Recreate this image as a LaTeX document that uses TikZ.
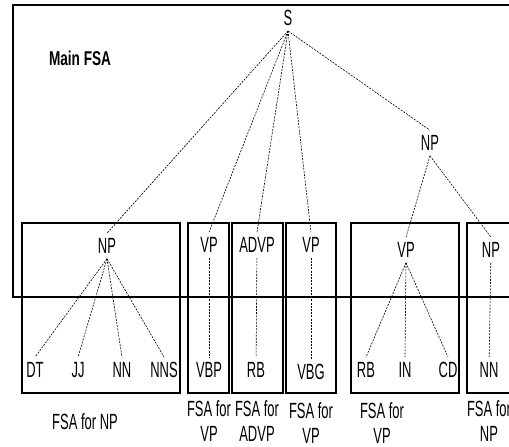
\documentclass[tikz,border=0pt]{standalone}
\usepackage{fontspec}
\setmainfont{Liberation Sans}[FakeStretch=0.59]
\newfontfamily\titlefont{Liberation Sans}[FakeStretch=0.68]
\tikzset{tag/.style={font=\fontsize{22}{27}\selectfont,inner sep=5pt},frame/.style={draw,line width=1.6pt},link/.style={line width=0.6pt,dash pattern=on 2pt off 1.2pt},fsalabel/.style={font=\fontsize{22}{25}\selectfont,align=center,inner sep=0pt}}

\begin{document}
\begin{tikzpicture}[x=1pt,y=-1pt]
\useasboundingbox (0,0) rectangle (509,447);
\clip (0,0) rectangle (509,447);
% main FSA and the sub-FSAs
\draw[frame] (13,5) rectangle (520,297);
\draw[frame] (22,223) rectangle (180,393); \draw[frame] (188,223) rectangle (229,393);
\draw[frame] (232,223) rectangle (283,393); \draw[frame] (286,223) rectangle (336,393);
\draw[frame] (351,223) rectangle (459,393); \draw[frame] (467,223) rectangle (520,393);
\node[tag,font=\titlefont\bfseries\fontsize{20}{24}\selectfont] (title) at (80,58) {Main FSA};
\node[tag] (s) at (288,18) {S};
\node[tag] (npr) at (430,143) {NP};
\node[tag] (npa) at (107,246) {NP};
\node[tag] (vpa) at (209,245) {VP};
\node[tag] (advp) at (257,245) {ADVP};
\node[tag] (vpb) at (311,245) {VP};
\node[tag] (vpc) at (406,250) {VP};
\node[tag] (npb) at (491,250) {NP};
\node[tag] (dt) at (35,370) {DT}; \node[tag] (jj) at (78,370) {JJ};
\node[tag] (nn) at (122,370) {NN}; \node[tag] (nns) at (164,370) {NNS};
\node[tag] (vbp) at (209,370) {VBP}; \node[tag] (rb) at (256,370) {RB};
\node[tag] (vbg) at (311,372) {VBG};
\node[tag] (rbb) at (366,370) {RB}; \node[tag] (in) at (405,370) {IN};
\node[tag] (cd) at (448,370) {CD}; \node[tag] (nnb) at (489,370) {NN};
\node[fsalabel] (capa) at (85,422) {FSA for NP};
\node[fsalabel] (capb) at (209,421) {FSA for\\VP};
\node[fsalabel] (capc) at (257,421) {FSA for\\ADVP};
\node[fsalabel] (capd) at (311,423) {FSA for\\VP};
\node[fsalabel] (cape) at (382,423) {FSA for\\VP};
\node[fsalabel] (capf) at (489,421) {FSA for\\NP};
% arcs
\draw[link] (s.south)--(npa.north); \draw[link] (s.south)--(vpa.north); \draw[link] (s.south)--(advp.north);
\draw[link] (s.south)--(vpb.north); \draw[link] (s.south)--(npr.north);
\draw[link] (npr.south)--(vpc.north); \draw[link] (npr.south)--(npb.north);
\draw[link] (npa.south)--(dt.north); \draw[link] (npa.south)--(jj.north);
\draw[link] (npa.south)--(nn.north); \draw[link] (npa.south)--(nns.north);
\draw[link] (vpa)--(vbp); \draw[link] (advp)--(rb); \draw[link] (vpb)--(vbg);
\draw[link] (vpc.south)--(rbb.north); \draw[link] (vpc.south)--(in.north); \draw[link] (vpc.south)--(cd.north);
\draw[link] (npb)--(nnb);
\end{tikzpicture}
\end{document}
